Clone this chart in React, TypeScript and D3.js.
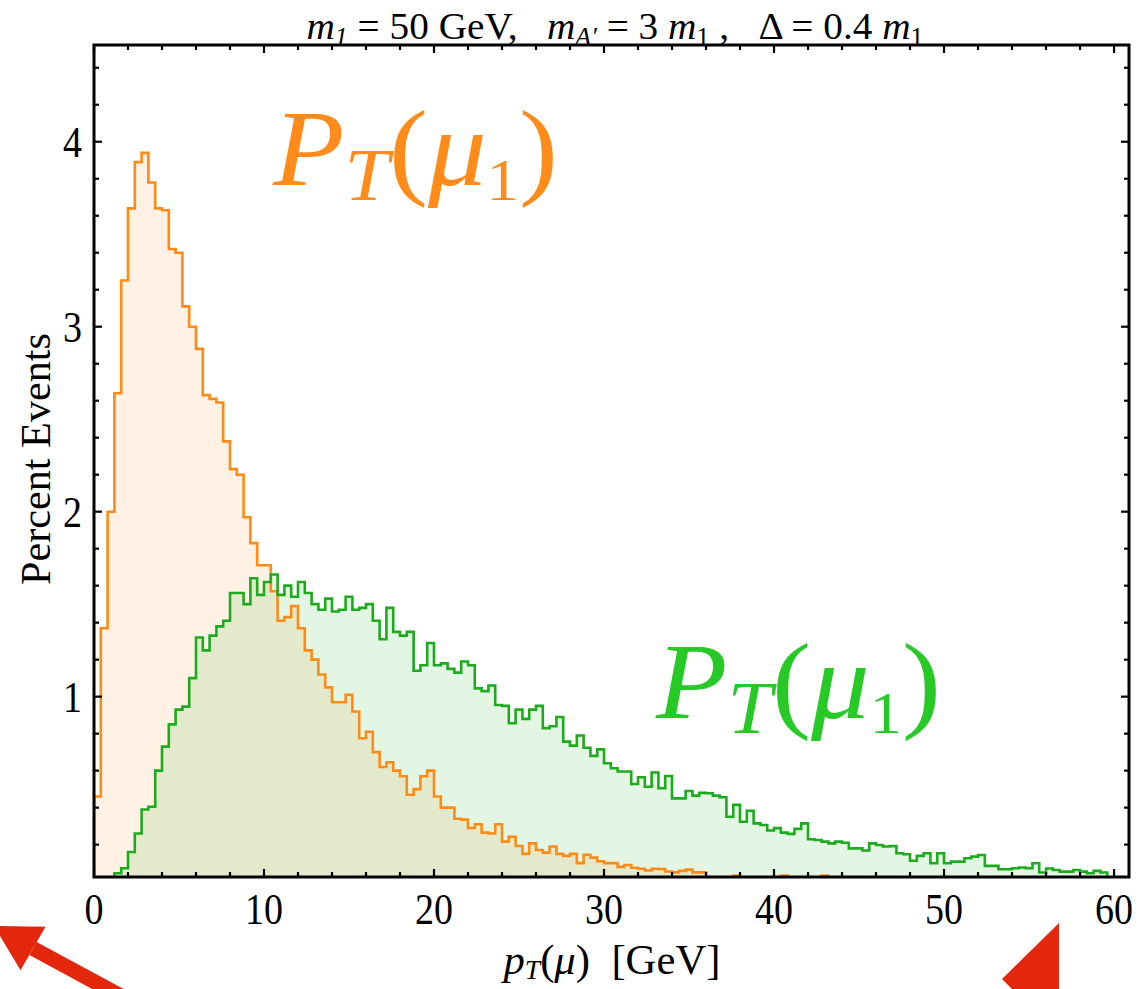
import React from "react";
import * as d3 from "d3";

// ---------- data ----------
const binWidth = 0.4; // GeV per histogram bin (150 bins from 0 to 60)

const orangeValues = [
  0.46, 1.37, 2.0, 2.64, 3.25, 3.64, 3.89, 3.94, 3.78, 3.64,
  3.63, 3.42, 3.4, 3.11, 3.0, 2.88, 2.63, 2.61, 2.59, 2.38,
  2.23, 2.2, 1.97, 1.83, 1.71, 1.71, 1.57, 1.41, 1.43, 1.49,
  1.37, 1.25, 1.2, 1.12, 1.05, 0.97, 0.97, 1.01, 0.92, 0.775,
  0.81, 0.7, 0.62, 0.645, 0.6, 0.57, 0.47, 0.5, 0.57, 0.6,
  0.46, 0.4, 0.4, 0.34, 0.335, 0.29, 0.31, 0.265, 0.26, 0.31,
  0.216, 0.243, 0.193, 0.15, 0.207, 0.171, 0.157, 0.19, 0.15, 0.139,
  0.15, 0.1, 0.145, 0.13, 0.11, 0.1, 0.1, 0.08, 0.09, 0.075,
  0.07, 0.06, 0.07, 0.068, 0.055, 0.05, 0.058, 0.065, 0.05, 0.05,
  0.0, 0.0, 0.0, 0.0, 0.033, 0.0, 0.0, 0.0, 0.0, 0.0,
  0.0, 0.033, 0.0, 0.0, 0.0, 0.0, 0.0, 0.033, 0.0, 0.0,
  0.0, 0.0, 0.0, 0.0, 0.0, 0.0, 0.0, 0.0, 0.0, 0.0,
  0.0, 0.0, 0.0, 0.0, 0.0, 0.0, 0.0, 0.0, 0.0, 0.0,
  0.0, 0.0, 0.0, 0.0, 0.0, 0.0, 0.0, 0.0, 0.0, 0.0,
  0.0, 0.0, 0.0, 0.0, 0.0, 0.0, 0.0, 0.0, 0.0, 0.0,
];

const greenValues = [
  0.0, 0.0, 0.0, 0.045, 0.072, 0.16, 0.26, 0.39, 0.405, 0.6,
  0.73, 0.85, 0.93, 0.946, 1.1, 1.32, 1.25, 1.33, 1.38, 1.41,
  1.56, 1.56, 1.5, 1.64, 1.55, 1.62, 1.66, 1.55, 1.6, 1.54,
  1.62, 1.56, 1.5, 1.47, 1.53, 1.46, 1.47, 1.54, 1.47, 1.48,
  1.5, 1.41, 1.31, 1.48, 1.35, 1.33, 1.35, 1.14, 1.17, 1.29,
  1.17, 1.18, 1.15, 1.13, 1.19, 1.17, 1.045, 1.03, 1.06, 0.955,
  0.95, 0.856, 0.93, 0.88, 0.93, 0.95, 0.83, 0.84, 0.89, 0.757,
  0.735, 0.79, 0.724, 0.68, 0.715, 0.64, 0.613, 0.595, 0.595, 0.528,
  0.564, 0.513, 0.59, 0.505, 0.571, 0.45, 0.45, 0.49, 0.465, 0.48,
  0.478, 0.465, 0.456, 0.351, 0.415, 0.324, 0.383, 0.315, 0.306, 0.276,
  0.289, 0.265, 0.258, 0.285, 0.315, 0.229, 0.225, 0.216, 0.207, 0.216,
  0.21, 0.18, 0.18, 0.168, 0.207, 0.198, 0.19, 0.192, 0.153, 0.148,
  0.113, 0.139, 0.153, 0.099, 0.153, 0.099, 0.108, 0.108, 0.126, 0.135,
  0.144, 0.085, 0.085, 0.067, 0.067, 0.072, 0.076, 0.072, 0.099, 0.049,
  0.071, 0.063, 0.054, 0.054, 0.063, 0.054, 0.045, 0.058, 0.049, 0.0,
];

const xTickValues = [0, 10, 20, 30, 40, 50, 60];
const xTickLabels = ["0", "10", "20", "30", "40", "50", "60"];
const yTickValues = [1, 2, 3, 4];
const yTickLabels = ["1", "2", "3", "4"];

const ORANGE_LINE = "#ff8a14";
const GREEN_LINE = "#1cab1c";
const ORANGE_TEXT = "#ff8c1a";
const GREEN_TEXT = "#27c927";
const RED = "#e2270c";
const FONT = "'Liberation Serif', 'Times New Roman', serif";

function stepPoints(values: number[]): [number, number][] {
  const pts: [number, number][] = [[0, 0]];
  values.forEach((v, i) => pts.push([i * binWidth, v]));
  pts.push([values.length * binWidth, 0]);
  return pts;
}

export default function App() {
  const W = 1148;
  const H = 989;
  const left = 94,
    right = 1129,
    top = 45,
    bottom = 877;

  const x = d3.scaleLinear().domain([0, 60.88]).range([left, right]);
  const y = d3.scaleLinear().domain([0.025, 4.523]).range([bottom, top]);

  const line = d3
    .line<[number, number]>()
    .x((d) => x(d[0]))
    .y((d) => y(d[1]))
    .curve(d3.curveStepAfter);
  const area = d3
    .area<[number, number]>()
    .x((d) => x(d[0]))
    .y0(y(0))
    .y1((d) => y(d[1]))
    .curve(d3.curveStepAfter);

  const oPts = stepPoints(orangeValues);
  const gPts = stepPoints(greenValues);

  const xMinor = d3.range(0, 61, 2).filter((v) => v % 10 !== 0);
  const yMinor = d3
    .range(1, 23)
    .map((k) => k * 0.2)
    .filter((v) => Math.abs(v - Math.round(v)) > 1e-6);

  const majorLen = 8;
  const minorLen = 5;
  const sy = 1.15; // vertical stretch of tick labels

  return (
    <svg
      width={W}
      height={H}
      style={{ position: "absolute", left: 0, top: 0, background: "#fff" }}
      fontFamily={FONT}
    >
      <defs>
        <clipPath id="plotClip">
          <rect x={left} y={top} width={right - left} height={bottom - top} />
        </clipPath>
      </defs>
      <rect x={0} y={0} width={W} height={H} fill="#fff" />

      {/* histograms */}
      <g clipPath="url(#plotClip)">
        <path d={area(oPts) || ""} fill={"#ff8000"} fillOpacity={0.1} />
        <path d={area(gPts) || ""} fill={"#00aa00"} fillOpacity={0.11} />
        <path d={line(oPts) || ""} fill="none" stroke={ORANGE_LINE} strokeWidth={2.6} />
        <path d={line(gPts) || ""} fill="none" stroke={GREEN_LINE} strokeWidth={2.6} />
      </g>

      {/* ticks */}
      <g stroke="#000" strokeWidth={2.2}>
        {xTickValues.map((v) => (
          <g key={"xM" + v}>
            <line x1={x(v)} x2={x(v)} y1={bottom} y2={bottom - majorLen} />
            <line x1={x(v)} x2={x(v)} y1={top} y2={top + majorLen} />
          </g>
        ))}
        {xMinor.map((v) => (
          <g key={"xm" + v}>
            <line x1={x(v)} x2={x(v)} y1={bottom} y2={bottom - minorLen} />
            <line x1={x(v)} x2={x(v)} y1={top} y2={top + minorLen} />
          </g>
        ))}
        {yTickValues.map((v) => (
          <g key={"yM" + v}>
            <line x1={left} x2={left + majorLen} y1={y(v)} y2={y(v)} />
            <line x1={right} x2={right - majorLen} y1={y(v)} y2={y(v)} />
          </g>
        ))}
        {yMinor.map((v) => (
          <g key={"ym" + v}>
            <line x1={left} x2={left + minorLen} y1={y(v)} y2={y(v)} />
            <line x1={right} x2={right - minorLen} y1={y(v)} y2={y(v)} />
          </g>
        ))}
      </g>

      {/* frame */}
      <rect
        x={left}
        y={top}
        width={right - left}
        height={bottom - top}
        fill="none"
        stroke="#000"
        strokeWidth={3}
      />

      {/* tick labels */}
      {xTickValues.map((v, i) => (
        <text
          key={"xl" + v}
          transform={`translate(${x(v)}, 924) scale(1, ${sy})`}
          fontSize={38}
          textAnchor="middle"
          fill="#000"
        >
          {xTickLabels[i]}
        </text>
      ))}
      {yTickValues.map((v, i) => (
        <text
          key={"yl" + v}
          transform={`translate(82, ${y(v) + 15}) scale(1, ${sy})`}
          fontSize={38}
          textAnchor="end"
          fill="#000"
        >
          {yTickLabels[i]}
        </text>
      ))}

      {/* title */}
      <text
        x={615}
        y={39}
        fontSize={38}
        textAnchor="middle"
        fill="#000"
        style={{ whiteSpace: "pre" }}
        textLength={617}
        lengthAdjust="spacingAndGlyphs"
      >
        <tspan fontStyle="italic">m</tspan>
        <tspan dy={6} fontSize={25} fontStyle="italic">1</tspan>
        <tspan dy={-6}>{" = 50 GeV,   "}</tspan>
        <tspan fontStyle="italic">m</tspan>
        <tspan dy={6} fontSize={25} fontStyle="italic">{"A\u2032"}</tspan>
        <tspan dy={-6}>{" = 3 "}</tspan>
        <tspan fontStyle="italic">m</tspan>
        <tspan dy={6} fontSize={25}>1</tspan>
        <tspan dy={-6}>{" ,   \u0394 = 0.4 "}</tspan>
        <tspan fontStyle="italic">m</tspan>
        <tspan dy={6} fontSize={25}>1</tspan>
      </text>

      {/* axis labels */}
      <text
        transform={`translate(50, 459) rotate(-90)`}
        fontSize={42}
        textAnchor="middle"
        fill="#000"
        textLength={252}
        lengthAdjust="spacingAndGlyphs"
      >
        Percent Events
      </text>
      <text
        x={612}
        y={974}
        fontSize={42}
        textAnchor="middle"
        fill="#000"
        style={{ whiteSpace: "pre" }}
        textLength={217}
        lengthAdjust="spacingAndGlyphs"
      >
        <tspan fontStyle="italic">p</tspan>
        <tspan dy={5} fontSize={27} fontStyle="italic">T</tspan>
        <tspan dy={-5}>(</tspan>
        <tspan fontStyle="italic">{"\u03bc"}</tspan>
        <tspan>{")  [GeV]"}</tspan>
      </text>

      {/* big annotations */}
      <text
        x={273}
        y={185}
        fontSize={108}
        fill={ORANGE_TEXT}
        textLength={285}
        lengthAdjust="spacingAndGlyphs"
      >
        <tspan fontStyle="italic">P</tspan>
        <tspan dy={15} fontSize={74} fontStyle="italic">T</tspan>
        <tspan dy={-15}>(</tspan>
        <tspan fontStyle="italic">{"\u03bc"}</tspan>
        <tspan dy={15} fontSize={60}>1</tspan>
        <tspan dy={-15}>)</tspan>
      </text>
      <text
        x={656}
        y={718}
        fontSize={108}
        fill={GREEN_TEXT}
        textLength={285}
        lengthAdjust="spacingAndGlyphs"
      >
        <tspan fontStyle="italic">P</tspan>
        <tspan dy={15} fontSize={74} fontStyle="italic">T</tspan>
        <tspan dy={-15}>(</tspan>
        <tspan fontStyle="italic">{"\u03bc"}</tspan>
        <tspan dy={15} fontSize={60}>1</tspan>
        <tspan dy={-15}>)</tspan>
      </text>

      {/* red arrow annotations */}
      <line x1={33} y1={948.5} x2={180} y2={1028} stroke={RED} strokeWidth={15} />
      <polygon points="-6,926 45.5,926.8 20.5,970.2" fill={RED} />
      <polygon points="1059,923 1059,989 1012,989 1002,979" fill={RED} />
    </svg>
  );
}
